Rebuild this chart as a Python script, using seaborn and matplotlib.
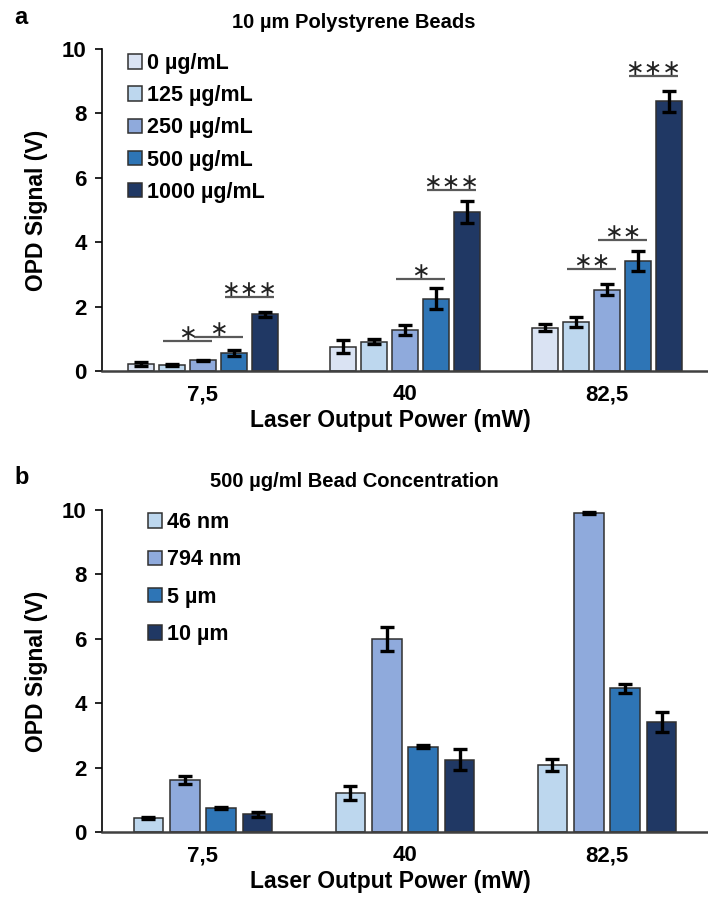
import numpy as np
import pandas as pd
import seaborn as sns
import matplotlib.pyplot as plt

# dados
potencias = ['7,5', '40', '82,5']

conc_labels = ['0 µg/mL', '125 µg/mL', '250 µg/mL', '500 µg/mL', '1000 µg/mL']
conc_0 = [0.22, 0.76, 1.35]
conc_125 = [0.19, 0.91, 1.52]
conc_250 = [0.33, 1.27, 2.52]
conc_500 = [0.56, 2.25, 3.42]
conc_1000 = [1.76, 4.95, 8.37]
err_0 = [0.06, 0.20, 0.12]
err_125 = [0.04, 0.07, 0.16]
err_250 = [0.02, 0.16, 0.17]
err_500 = [0.08, 0.33, 0.31]
err_1000 = [0.07, 0.34, 0.34]

tam_labels = ['46 nm', '794 nm', '5 µm', '10 µm']
tam_46nm = [0.43, 1.21, 2.07]
tam_794nm = [1.61, 6.00, 9.90]
tam_5um = [0.74, 2.65, 4.46]
tam_10um = [0.55, 2.25, 3.42]
err_46nm = [0.04, 0.21, 0.19]
err_794nm = [0.12, 0.37, 0.04]
err_5um = [0.04, 0.04, 0.13]
err_10um = [0.08, 0.34, 0.31]

# significancia: grupo, barra inicial, barra final, altura, texto
sig_grupo = [0, 0, 0, 1, 1, 2, 2, 2]
sig_de = [1, 2, 3, 2, 3, 1, 2, 3]
sig_ate = [2, 3, 4, 3, 4, 2, 3, 4]
sig_altura = [0.94, 1.05, 2.31, 2.86, 5.62, 3.17, 4.07, 9.16]
sig_texto = ['*', '*', '***', '*', '***', '**', '**', '***']

cores_a = ['#dae3f3', '#bdd7ee', '#8faadc', '#2e75b6', '#203864']
cores_b = ['#bdd7ee', '#8faadc', '#2e75b6', '#203864']

sns.set_style('white')
plt.rcParams['font.family'] = ['Liberation Sans', 'DejaVu Sans']
plt.rcParams['font.weight'] = 'bold'
plt.rcParams['text.color'] = 'black'
plt.rcParams['axes.labelcolor'] = 'black'
plt.rcParams['xtick.color'] = 'black'
plt.rcParams['ytick.color'] = 'black'

fig = plt.figure(figsize=(7.08, 8.97), dpi=100)
ax_a = fig.add_axes([0.144, 0.5864, 0.856, 0.359])
ax_b = fig.add_axes([0.144, 0.0725, 0.856, 0.359])


def montar(labels, series):
    linhas = []
    for lab, vals in zip(labels, series):
        for p, v in zip(potencias, vals):
            linhas.append({'pot': p, 'grupo': lab, 'v': v})
    return pd.DataFrame(linhas)


def desenhar(ax, labels, series, erros, cores, largura, gap, titulo, letra, ytitulo, yletra):
    df = montar(labels, series)
    sns.barplot(data=df, x='pot', y='v', hue='grupo', hue_order=labels, order=potencias,
                palette=cores, saturation=1, width=largura, gap=gap, errorbar=None,
                edgecolor='#303030', linewidth=1.1, ax=ax)
    centros = []
    for cont, err in zip(ax.containers, erros):
        xs = [b.get_x() + b.get_width() / 2 for b in cont]
        ys = [b.get_height() for b in cont]
        centros.append(xs)
        ax.errorbar(xs, ys, yerr=err, fmt='none', ecolor='black', elinewidth=2.4,
                    capsize=5, capthick=2.4, zorder=5)
    ax.set_xlim(-0.5, 2.5)
    ax.set_ylim(0, 10)
    ax.set_yticks([0, 2, 4, 6, 8, 10])
    ax.tick_params(axis='y', left=True, length=5, width=1.2, pad=6, labelsize=16)
    ax.tick_params(axis='x', bottom=False, pad=6, labelsize=16)
    for t in ax.get_xticklabels() + ax.get_yticklabels():
        t.set_fontweight('bold')
    sns.despine(ax=ax, top=True, right=True)
    ax.spines['left'].set_color('black')
    ax.spines['left'].set_linewidth(1.2)
    ax.spines['bottom'].set_color('#404040')
    ax.spines['bottom'].set_linewidth(1.8)
    ax.set_xlabel('Laser Output Power (mW)', fontsize=16.5, fontweight='bold', labelpad=0)
    ax.xaxis.set_label_coords(0.476, -0.118)
    ax.set_ylabel('OPD Signal (V)', fontsize=16.5, fontweight='bold', labelpad=10)
    fig.text(0.5, ytitulo, titulo, ha='center', va='center', fontsize=14.5, fontweight='bold')
    fig.text(0.02, yletra, letra, ha='left', va='center', fontsize=17, fontweight='bold')
    return centros


centros_a = desenhar(ax_a, conc_labels, [conc_0, conc_125, conc_250, conc_500, conc_1000],
                     [err_0, err_125, err_250, err_500, err_1000], cores_a, 0.765, 0.16,
                     '10 µm Polystyrene Beads', 'a', 1 - 22 / 897, 1 - 18 / 897)
centros_b = desenhar(ax_b, tam_labels, [tam_46nm, tam_794nm, tam_5um, tam_10um],
                     [err_46nm, err_794nm, err_5um, err_10um], cores_b, 0.72, 0.18,
                     '500 µg/ml Bead Concentration', 'b', 1 - 481 / 897, 1 - 477 / 897)

# linhas de significancia
passo = centros_a[1][0] - centros_a[0][0]
for g, i, j, h, txt in zip(sig_grupo, sig_de, sig_ate, sig_altura, sig_texto):
    x0 = centros_a[i][g] - 0.3 * passo
    x1 = centros_a[j][g] + 0.3 * passo
    ax_a.plot([x0, x1], [h, h], color='#595959', lw=1.6, solid_capstyle='butt')
    ax_a.annotate('\u2217' * len(txt), xy=((x0 + x1) / 2, h), xytext=(0, 0.5),
                  textcoords='offset points', ha='center', va='baseline',
                  fontsize=16, fontweight='normal', family='DejaVu Sans', color='#222222')

# legendas
for ax, xl, yl, esp in [(ax_a, 128, 53, 0.52), (ax_b, 148, 512, 0.76)]:
    leg = ax.legend(loc='upper left', bbox_to_anchor=(xl / 708, 1 - yl / 897),
                    bbox_transform=fig.transFigure, frameon=False, borderpad=0,
                    borderaxespad=0, handlelength=0.65, handleheight=0.65,
                    handletextpad=0.25, labelspacing=esp,
                    prop={'weight': 'bold', 'size': 15.5})

plt.savefig('out.png', dpi=100)
